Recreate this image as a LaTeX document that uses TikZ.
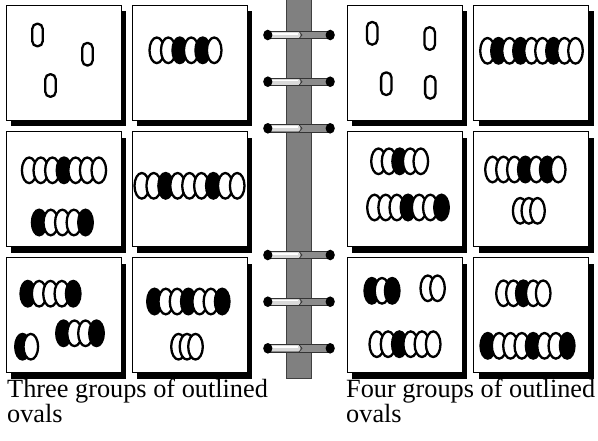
\documentclass[tikz,border=0pt]{standalone}
\usepackage{fontspec}
\setmainfont{Liberation Serif}
\colorlet{B}{black}
\colorlet{W}{white}
\tikzset{
  panelst/.style={draw=black, line width=1pt, fill=white},
  shadowst/.style={fill=black},
  ovalst/.style={draw=black, line width=2.3pt},
  spinest/.style={fill=black!50, draw=black!75, line width=0.8pt},
  lbl/.style={font=\fontsize{26.3}{30}\selectfont, inner sep=0pt, anchor=base west},
}
\newcommand\panelbox[2]{%
  \fill[shadowst] (#1+5,#2+6) rectangle ++(115,115);
  \filldraw[panelst] (#1,#2) rectangle ++(115,115);}
\newcommand\single[2]{%
  \draw[ovalst, fill=white, rounded corners=5pt] (#1-5.2,#2-11.3) rectangle (#1+5.2,#2+11.3);}
% left edge, right edge, centre y, count, colours
\newcommand\ovrow[5]{%
  \pgfmathsetmacro\stp{(#2-#1-17)/max(#4-1,1)}%
  \foreach \cc [count=\ii from 0] in {#5} {%
    \draw[ovalst, fill=\cc] ({#1+8.5+\stp*\ii},#3) ellipse [x radius=7.3pt, y radius=12.8pt];}}
\newcommand\ringat[1]{%
  \filldraw[fill=black!45, draw=black!80, line width=0.7pt] (268,#1-3.6) rectangle (331,#1+3.6);
  \fill[black!15] (268.5,#1-3) rectangle (300,#1+3);
  \draw[white, line width=1.6pt] (270,#1-1.2) -- (298,#1-1.2);
  \draw[black!80, line width=0.7pt] (299,#1-3.6) -- (302,#1) -- (299,#1+3.6);
  \fill (267.8,#1) ellipse [x radius=4.6pt, y radius=5.3pt];
  \fill (330.2,#1) ellipse [x radius=4.6pt, y radius=5.3pt];}
\begin{document}
\begin{tikzpicture}[x=1pt,y=-1pt]
\useasboundingbox (0,0) rectangle (598,440);
\fill[white] (0,0) rectangle (598,440);
% spine
\filldraw[spinest] (286,-1) rectangle (311.5,378);
\foreach \yy in {35,81.7,128.3,255,301.7,348.3} {\ringat{\yy}}
% panels
\foreach \px in {6,132,347,473.5} {
  \foreach \py in {5,131.5,257.5} {\panelbox{\px}{\py}}}
% panel 1
\single{37.5}{35}
\single{87.5}{54.2}
\single{50.5}{85.5}
% panel 2
\ovrow{148.3}{222.7}{50.3}{6}{W,W,B,W,B,W}
% panel 3
\ovrow{20.7}{107.3}{170.3}{7}{W,W,W,B,W,W,W}
\ovrow{30.7}{94}{222.5}{5}{B,W,W,W,B}
% panel 4
\ovrow{133.3}{245.7}{185.8}{9}{W,W,B,W,W,W,B,W,W}
% panel 5
\ovrow{19.3}{81.7}{293.7}{5}{B,W,W,W,B}
\ovrow{55}{105}{333.3}{4}{B,W,W,B}
\ovrow{14}{39.3}{346.7}{2}{B,W}
% panel 6
\ovrow{146}{230.7}{301.5}{7}{B,W,W,B,W,W,B}
\ovrow{170}{204}{346.7}{3}{W,W,W}
% panel 7
\single{372.2}{33.3}
\single{429.7}{38.5}
\single{386.3}{83.7}
\single{430.3}{87.3}
% panel 8
\ovrow{479}{584}{50.8}{9}{W,B,W,B,W,W,B,W,W}
% panel 9
\ovrow{370}{429.3}{161.3}{5}{W,W,B,W,W}
\ovrow{366}{450}{207.5}{7}{W,W,W,B,W,W,B}
% panel 10
\ovrow{484}{566.7}{169.5}{7}{W,W,W,B,W,B,W}
\ovrow{511.7}{546}{210.8}{3}{W,W,W}
% panel 11
\ovrow{363.3}{400.7}{290.8}{3}{B,W,B}
\ovrow{419.3}{446}{288.3}{2}{W,W}
\ovrow{368.3}{441.7}{344.2}{6}{W,W,B,W,W,W}
% panel 12
\ovrow{495}{551.7}{293.3}{5}{W,W,B,W,W}
\ovrow{479.3}{575.7}{345.8}{8}{B,W,W,W,B,W,W,B}
% captions
\node[lbl] (capA1) at (7,397) {Three groups of outlined};
\node[lbl] (capA2) at (7,422) {ovals};
\node[lbl] (capB1) at (346,397) {Four groups of outlined};
\node[lbl] (capB2) at (346,422) {ovals};
\end{tikzpicture}
\end{document}
